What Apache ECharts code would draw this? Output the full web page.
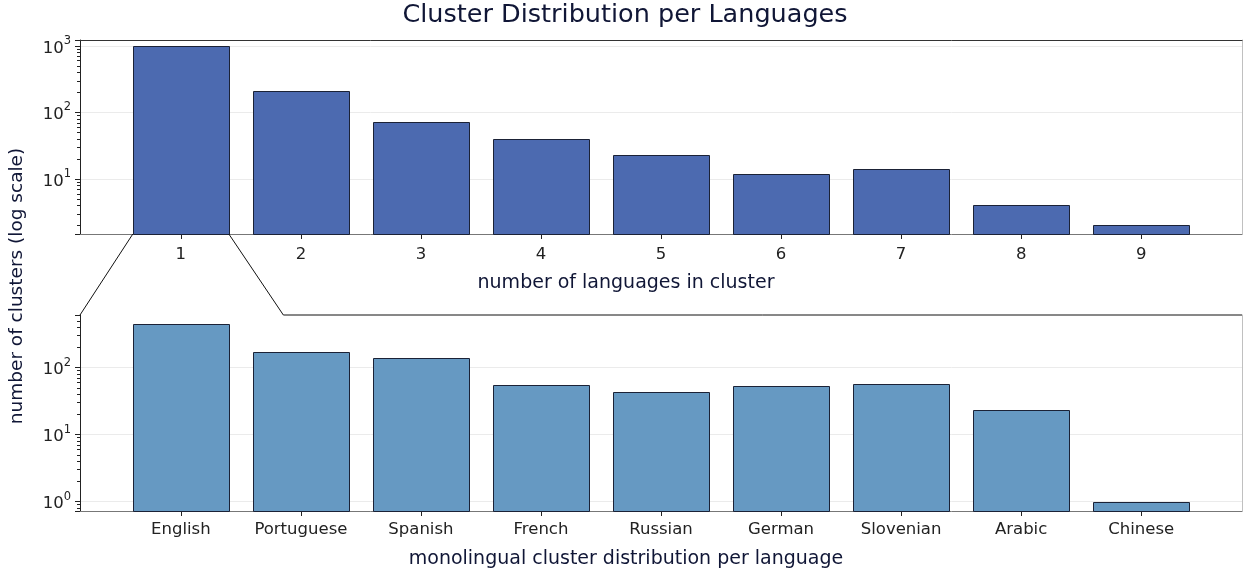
<!DOCTYPE html>
<html><head><meta charset="utf-8">
<script src="https://cdn.jsdelivr.net/npm/echarts@6/dist/echarts.min.js"></script>
<style>html,body{margin:0;padding:0;background:#fff}#c{width:1243px;height:573px}</style>
</head><body><div id="c"></div>
<script>
const chartTitle = 'Cluster Distribution per Languages';
const clusterSizes = ['1','2','3','4','5','6','7','8','9'];
const clusterCounts = [994, 207, 71, 40, 23, 12, 14, 4, 2];
const languages = ['English','Portuguese','Spanish','French','Russian','German','Slovenian','Arabic','Chinese'];
const monolingualCounts = [450, 171, 140, 55, 43, 54, 57, 23, 1];
const topRange = [1.49, 1230];
const bottomRange = [0.726, 611];
const topXName = 'number of languages in cluster';
const bottomXName = 'monolingual cluster distribution per language';
const yName = 'number of clusters (log scale)';

const FONT = 'DejaVu Sans';
const NAVY = '#101636';
function logLabel(v){
  const l = Math.log10(v), e = Math.round(l);
  if (Math.abs(l - e) > 1e-6) return '';
  return '{b|10}{e|' + e + '}';
}
function logAxis(grid, range, visible){
  if (!visible) return {type:'log', gridIndex:grid, min:range[0], max:range[1], logBase:10, show:false};
  return {
    type:'log', gridIndex:grid, min:range[0], max:range[1], logBase:10, position:'left',
    axisLine:{show:true, lineStyle:{color:'#222', width:1}},
    axisTick:{show:true, length:5, inside:false, lineStyle:{color:'#222', width:1}},
    minorTick:{show:true, splitNumber:9, length:3, lineStyle:{color:'#222', width:1}},
    axisLabel:{show:true, margin:9, fontFamily:FONT, color:'#222', formatter:logLabel, showMinLabel:false, showMaxLabel:false,
      rich:{
        b:{fontFamily:FONT, fontSize:16.5, color:'#222', lineHeight:22, verticalAlign:'bottom'},
        e:{fontFamily:FONT, fontSize:11.5, color:'#222', lineHeight:12, verticalAlign:'top'}
      }},
    splitLine:{show:true, showMinLine:false, showMaxLine:false, lineStyle:{color:'#ebebeb', width:1}},
    minorSplitLine:{show:false}
  };
}
function spineAxis(grid, pos, color){
  return {type:'value', gridIndex:grid, position:pos, min:0, max:1,
    axisLine:{show:true, onZero:false, lineStyle:{color:color, width:1}},
    axisTick:{show:false}, axisLabel:{show:false}, splitLine:{show:false}};
}
function catAxis(grid, data, margin){
  return {type:'category', gridIndex:grid, data:data, position:'bottom',
    axisLine:{show:false}, boundaryGap:true,
    axisTick:{show:true, alignWithLabel:true, length:5, lineStyle:{color:'#222', width:1}},
    axisLabel:{show:true, margin:margin, fontFamily:FONT, fontSize:16.5, color:'#222', interval:0},
    splitLine:{show:false}};
}
function barSeries(xi, yi, values, base, fill){
  return {type:'custom', xAxisIndex:xi, yAxisIndex:yi, z:3, clip:false,
    data: values.map((v,i)=>[i,v]), encode:{x:0, y:1},
    renderItem:function(params, api){
      const i = api.value(0), v = api.value(1);
      const top = api.coord([i, v]);
      const bot = api.coord([i, base]);
      const w = api.size([1, 0])[0] * 0.8;
      return {type:'rect', shape:{x:Math.round(top[0]-w/2)+0.5, y:Math.round(top[1])+0.5, width:Math.round(w), height:Math.round(bot[1])-Math.round(top[1])},
        style:{fill:fill, stroke:'#1b2236', lineWidth:1}};
    }};
}
const W = 1162, L = 80;
const unit = W / 9.68;
const nL = L + 0.34 * unit, nW = 9 * unit;
const grids = [
  {left:L, top:40, width:W, height:194},
  {left:nL, top:40, width:nW, height:194},
  {left:L, top:315, width:W, height:196},
  {left:nL, top:315, width:nW, height:196}
];
const chart = echarts.init(document.getElementById('c'), null, {renderer:'canvas'});
const option = {
  backgroundColor:'#fff',
  animation:false,
  title:{text:chartTitle, left:620, textAlign:'center', top:-3,
    textStyle:{fontFamily:FONT, fontSize:25.5, fontWeight:'normal', color:NAVY}},
  grid:grids,
  xAxis:[
    spineAxis(0,'bottom','#777'),
    spineAxis(0,'top','#333'),
    catAxis(1, clusterSizes, 12),
    spineAxis(2,'bottom','#777'),
    catAxis(3, languages, 10)
  ],
  yAxis:[
    logAxis(0, topRange, true),
    spineAxis(0,'right','#c0c0c0'),
    logAxis(1, topRange, false),
    logAxis(2, bottomRange, true),
    spineAxis(2,'right','#c0c0c0'),
    logAxis(3, bottomRange, false)
  ],
  series:[
    barSeries(2, 2, clusterCounts, topRange[0], '#4c6ab0'),
    barSeries(4, 5, monolingualCounts, bottomRange[0], '#6699c2')
  ]
};
chart.setOption(option);
// connector lines from the first top bar to the lower panel
const barCenter = chart.convertToPixel({gridIndex:1}, [0, topRange[0]]);
const halfBar = 0.4 * unit;
const lowLeft = chart.convertToPixel({gridIndex:2}, [0, bottomRange[1]]);
const lowMid = chart.convertToPixel({gridIndex:2}, [0.175, bottomRange[1]]);
const lowRight = chart.convertToPixel({gridIndex:2}, [1, bottomRange[1]]);
chart.setOption({graphic:[
  {type:'polyline', z:10, shape:{points:[[barCenter[0]-halfBar, barCenter[1]], lowLeft]}, style:{stroke:'#111', lineWidth:1, fill:null}},
  {type:'polyline', z:10, shape:{points:[[barCenter[0]+halfBar, barCenter[1]], lowMid, lowRight]}, style:{stroke:'#111', lineWidth:1, fill:null}},
  {type:'text', x:17, y:286, rotation:Math.PI/2, z:10,
    style:{text:yName, font:'18.5px "DejaVu Sans"', fill:NAVY, align:'center', verticalAlign:'middle'}},
  {type:'text', x:626, y:283, z:10,
    style:{text:topXName, font:'19px "DejaVu Sans"', fill:NAVY, align:'center', verticalAlign:'middle'}},
  {type:'text', x:626, y:559, z:10,
    style:{text:bottomXName, font:'19px "DejaVu Sans"', fill:NAVY, align:'center', verticalAlign:'middle'}}
]});
</script></body></html>
